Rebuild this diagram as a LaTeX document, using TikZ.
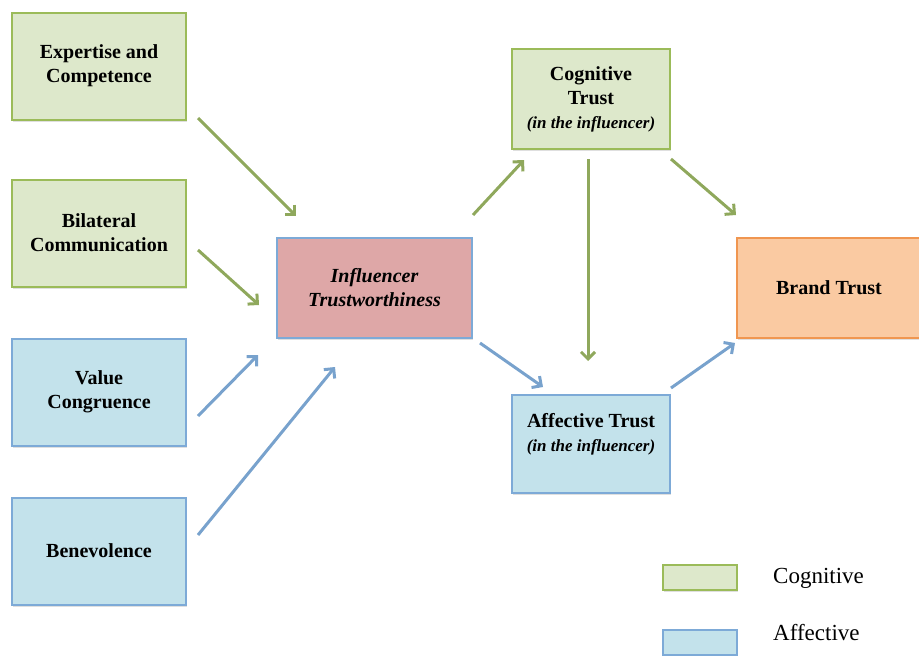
\documentclass[tikz,border=0pt]{standalone}
\usepackage{fontspec}
\setmainfont{Liberation Serif}
\usetikzlibrary{arrows.meta,shadows}

\definecolor{cogfill}{RGB}{221,232,203}
\definecolor{cogdraw}{RGB}{155,187,89}
\definecolor{cogline}{RGB}{143,168,92}
\definecolor{afffill}{RGB}{195,226,235}
\definecolor{affdraw}{RGB}{125,170,215}
\definecolor{affline}{RGB}{120,162,205}
\definecolor{twfill}{RGB}{222,167,167}
\definecolor{brandfill}{RGB}{250,202,162}
\definecolor{branddraw}{RGB}{240,150,80}

\begin{document}
\begin{tikzpicture}[x=1pt, y=-1pt,
  every node/.style={font=\fontsize{20}{24}\selectfont\bfseries, align=center, inner sep=0pt},
  box/.style={draw, rectangle, line width=2pt, drop shadow={shadow xshift=1pt, shadow yshift=-2pt, opacity=0.25}},
  cogbox/.style={box, draw=cogdraw, fill=cogfill},
  affbox/.style={box, draw=affdraw, fill=afffill},
  legend/.style={font=\fontsize{23}{28}\selectfont, anchor=base west},
  cogarrow/.style={->, draw=cogline, line width=3pt},
  affarrow/.style={->, draw=affline, line width=3pt},
  >={Straight Barb[length=7pt,width=14pt]}]
\useasboundingbox (0,0) rectangle (919,656);

\node[cogbox, minimum width=174pt, minimum height=107pt] (expert) at (99,66) {Expertise and\\Competence};
\node[cogbox, minimum width=174pt, minimum height=107pt] (bilat) at (99,233) {Bilateral\\Communication};
\node[affbox, minimum width=174pt, minimum height=107pt] (value) at (99,392) {Value\\Congruence};
\node[affbox, minimum width=174pt, minimum height=107pt] (bene) at (99,551) {Benevolence};
\node[box, draw=affdraw, fill=twfill, minimum width=195pt, minimum height=100pt,
  font=\fontsize{20}{24}\selectfont\bfseries\itshape] (infl) at (374.5,288) {Influencer\\Trustworthiness};
\node[cogbox, minimum width=158pt, minimum height=100pt] (cog) at (591,99) {Cognitive\\Trust\\{\fontsize{17}{24}\selectfont\itshape (in the influencer)}};
\node[affbox, minimum width=158pt, minimum height=98pt] (aff) at (591,444) {Affective Trust\\{\fontsize{17}{24}\selectfont\itshape (in the influencer)}\\ \mbox{}};
\node[box, draw=branddraw, fill=brandfill, minimum width=184pt, minimum height=100pt] (brand) at (829,288) {Brand Trust};

\node[cogbox, minimum width=74pt, minimum height=25pt] (legcog) at (700,577.5) {};
\node[affbox, minimum width=74pt, minimum height=25pt] (legaff) at (700,642.5) {};
\node[legend] (legcogtext) at (773,583) {Cognitive};
\node[legend] (legafftext) at (773,640) {Affective};

\draw[cogarrow] ([xshift=11pt,yshift=2.5pt]expert.south east) -- ([xshift=20pt,yshift=21pt]infl.north west);
\draw[cogarrow] ([xshift=11pt,yshift=-17pt]bilat.east) -- ([xshift=-17pt,yshift=-17pt]infl.west);
\draw[affarrow] ([xshift=11pt,yshift=-24pt]value.east) -- ([xshift=-18pt,yshift=-16pt]infl.south west);
\draw[affarrow] ([xshift=11pt,yshift=16pt]bene.east) -- ([xshift=59pt,yshift=-28pt]infl.south west);
\draw[cogarrow] ([yshift=22pt]infl.north east) -- ([xshift=13pt,yshift=-10pt]cog.south west);
\draw[affarrow] ([xshift=7pt,yshift=-4pt]infl.south east) -- ([xshift=32pt,yshift=7pt]aff.north west);
\draw[cogarrow] ([xshift=-3pt,yshift=-9pt]cog.south) -- ([xshift=-3pt,yshift=33pt]aff.north);
\draw[cogarrow] ([yshift=-9pt]cog.south east) -- ([yshift=22pt]brand.north west);
\draw[affarrow] ([yshift=6pt]aff.north east) -- ([xshift=-1pt,yshift=-4pt]brand.south west);
\end{tikzpicture}
\end{document}
